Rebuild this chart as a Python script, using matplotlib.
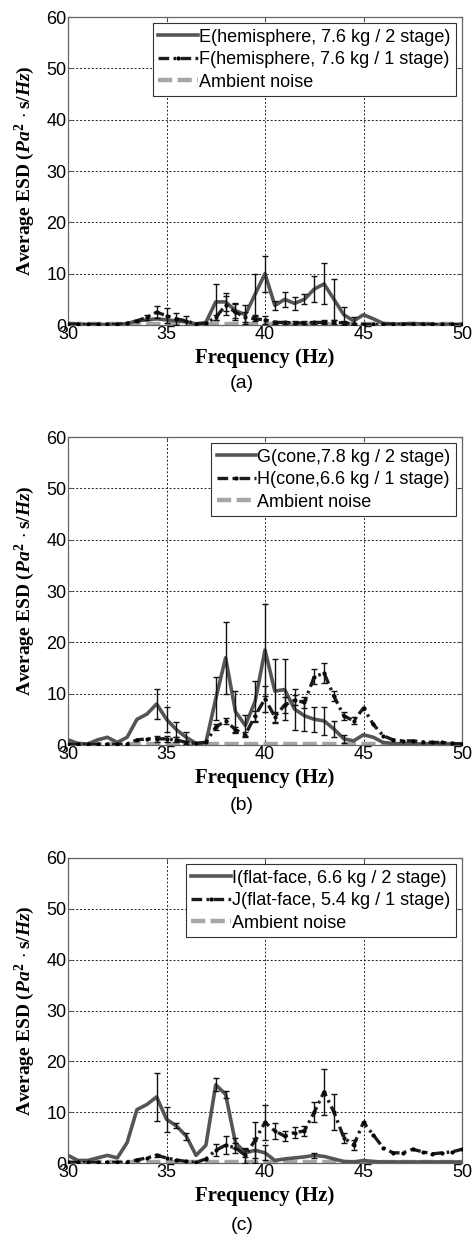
# -*- coding: utf-8 -*-
"""Average ESD vs frequency, three nose shapes (a)(b)(c)"""
import numpy as np, matplotlib
matplotlib.use('Agg')
import matplotlib.pyplot as plt

plt.rcParams['font.family'] = ['Liberation Sans', 'DejaVu Sans']
plt.rcParams['mathtext.fontset'] = 'custom'
plt.rcParams['mathtext.rm'] = 'Liberation Serif:bold'
plt.rcParams['mathtext.it'] = 'Liberation Serif:bold:italic'
plt.rcParams['mathtext.bf'] = 'Liberation Serif:bold'

freq = [30, 30.5, 31, 31.5, 32, 32.5, 33, 33.5, 34, 34.5, 35, 35.5, 36, 36.5, 37, 37.5,
        38, 38.5, 39, 39.5, 40, 40.5, 41, 41.5, 42, 42.5, 43, 43.5, 44, 44.5, 45, 45.5,
        46, 46.5, 47, 47.5, 48, 48.5, 49, 49.5, 50]

# (a) hemisphere
E_val = [0.3, 0.2, 0.1, 0.1, 0.1, 0.1, 0.3, 0.8, 1.0, 1.2, 1.0, 0.8, 0.6, 0.2, 0.5, 4.5,
         4.5, 2.8, 2.0, 6.0, 10.0, 3.8, 5.0, 4.2, 5.0, 7.0, 8.0, 5.0, 2.0, 0.8, 2.0, 1.2,
         0.3, 0.2, 0.2, 0.3, 0.2, 0.1, 0.1, 0.1, 0.1]
E_err = [0, 0, 0, 0, 0, 0, 0, 0, 0, 0, 0, 0, 0, 0, 0, 3.5,
         1.8, 1.5, 1.8, 4.0, 3.5, 0.8, 1.5, 1.3, 1.0, 2.5, 4.0, 4.0, 1.5, 0.8, 0, 0,
         0, 0, 0, 0, 0, 0, 0, 0, 0]
F_val = [0.1, 0.1, 0.1, 0.1, 0.1, 0.1, 0.3, 0.8, 1.5, 2.5, 1.8, 1.2, 0.8, 0.2, 0.3, 1.5,
         3.8, 2.5, 1.5, 1.2, 1.0, 0.5, 0.5, 0.4, 0.4, 0.5, 0.5, 0.5, 0.4, 0.2, 0.1, 0.1,
         0.1, 0.1, 0.1, 0.1, 0.1, 0.1, 0.1, 0.1, 0.1]
F_err = [0, 0, 0, 0, 0, 0, 0, 0, 0.5, 1.2, 1.5, 1.2, 1.0, 0, 0, 0.5,
         1.8, 1.5, 1.0, 0.5, 0.8, 0.3, 0.3, 0.3, 0.3, 0.3, 0.4, 0.4, 0.4, 0.2, 0, 0,
         0, 0, 0, 0, 0, 0, 0, 0, 0]

# (b) cone
G_val = [1.0, 0.3, 0.2, 1.0, 1.5, 0.5, 1.5, 5.0, 6.0, 8.0, 5.0, 3.0, 1.5, 0.3, 0.5, 9.0,
         17.0, 6.5, 3.8, 8.5, 18.5, 10.5, 10.8, 7.0, 5.7, 5.0, 4.7, 3.1, 1.2, 0.8, 2.0, 1.5,
         0.5, 0.3, 0.2, 0.2, 0.2, 0.2, 0.2, 0.2, 0.2]
G_err = [0, 0, 0, 0, 0, 0, 0, 0, 0, 3.0, 2.5, 1.5, 1.0, 0, 0, 4.2,
         7.0, 4.0, 2.0, 4.0, 9.0, 6.3, 6.0, 4.0, 3.0, 2.5, 2.7, 1.5, 0.8, 0, 0, 0,
         0, 0, 0, 0, 0, 0, 0, 0, 0]
H_val = [0.1, 0.1, 0.1, 0.1, 0.1, 0.1, 0.2, 1.0, 1.2, 1.2, 1.2, 1.0, 0.5, 0.3, 0.5, 3.5,
         4.7, 3.0, 2.0, 5.7, 9.0, 5.5, 7.8, 8.7, 8.3, 13.3, 14.0, 9.5, 5.7, 4.7, 7.2, 4.0,
         1.8, 1.0, 0.8, 0.8, 0.6, 0.5, 0.5, 0.3, 0.2]
H_err = [0, 0, 0, 0, 0, 0, 0, 0, 0, 0.6, 0.6, 0.5, 0.3, 0, 0, 0.6,
         0.6, 0.6, 0.5, 1.0, 2.5, 1.0, 1.5, 1.0, 1.0, 1.5, 2.0, 1.0, 0.8, 0.7, 0, 0,
         0, 0, 0, 0, 0, 0, 0, 0, 0]

# (c) flat-face
I_val = [1.5, 0.5, 0.5, 1.0, 1.5, 1.0, 4.0, 10.5, 11.5, 13.0, 8.6, 7.3, 5.3, 1.5, 3.5, 15.4,
         13.5, 4.0, 2.0, 2.5, 2.0, 0.5, 0.8, 1.0, 1.2, 1.5, 1.3, 0.8, 0.3, 0.2, 0.5, 0.3,
         0.2, 0.2, 0.2, 0.2, 0.2, 0.2, 0.2, 0.2, 0.2]
I_err = [0, 0, 0, 0, 0, 0, 0, 0, 0, 4.8, 2.5, 0.5, 0.7, 0, 0, 1.3,
         0.7, 1.0, 0.8, 2.5, 1.5, 0, 0, 0, 0, 0.5, 0, 0, 0, 0, 0, 0,
         0, 0, 0, 0, 0, 0, 0, 0, 0]
J_val = [0.1, 0.1, 0.1, 0.1, 0.1, 0.1, 0.2, 0.6, 1.0, 1.5, 1.0, 0.6, 0.3, 0.1, 0.8, 2.5,
         3.5, 3.0, 1.5, 4.5, 8.0, 6.3, 5.3, 6.0, 6.3, 10.0, 14.0, 10.0, 5.0, 3.5, 8.0, 5.5,
         3.0, 2.0, 2.0, 2.7, 2.2, 1.8, 2.0, 2.2, 2.7]
J_err = [0, 0, 0, 0, 0, 0, 0, 0, 0, 0.3, 0, 0, 0, 0, 0, 1.2,
         1.8, 1.0, 1.5, 3.5, 3.5, 1.5, 1.0, 1.0, 1.0, 2.0, 4.5, 3.5, 1.0, 1.0, 0, 0,
         0, 0, 0, 0, 0, 0, 0, 0, 0]

ambient = [0.2] * len(freq)

panels = [
    ('(a)', E_val, E_err, F_val, F_err,
     'E(hemisphere, 7.6 kg / 2 stage)', 'F(hemisphere, 7.6 kg / 1 stage)'),
    ('(b)', G_val, G_err, H_val, H_err,
     'G(cone,7.8 kg / 2 stage)', 'H(cone,6.6 kg / 1 stage)'),
    ('(c)', I_val, I_err, J_val, J_err,
     'I(flat-face, 6.6 kg / 2 stage)', 'J(flat-face, 5.4 kg / 1 stage)'),
]

W, H = 472, 1245
fig = plt.figure(figsize=(W / 100, H / 100), dpi=100)
# axes boxes in pixels: (top, bottom)
boxes = [(17, 325), (437, 745), (858, 1163)]
caps_y = [384, 805, 1225]
x0, x1 = 68, 462

for (tag, v1, e1, v2, e2, lab1, lab2), (top, bot), cy in zip(panels, boxes, caps_y):
    ax = fig.add_axes([x0 / W, 1 - bot / H, (x1 - x0) / W, (bot - top) / H])
    l1, = ax.plot(freq, v1, '-', color='#555555', lw=2.6, label=lab1, zorder=3)
    l2, = ax.plot(freq, v2, color='#1c1c1c', lw=2.4, dashes=(3.2, 1.3, 0.8, 1.3),
                  marker='.', ms=4, mfc='k', mec='k', label=lab2, zorder=4)
    l3, = ax.plot(freq, ambient, color='#a6a6a6', lw=3.2, dashes=(3.2, 1.2),
                  label='Ambient noise', zorder=2)
    fa = np.array(freq)
    for v, e in ((v1, e1), (v2, e2)):
        m = np.array(e) > 0
        ax.errorbar(fa[m], np.array(v)[m], yerr=np.array(e)[m], fmt='none',
                    ecolor='#111111', elinewidth=1.0, capsize=2.2, capthick=1.0, zorder=5)
    ax.set_xlim(30, 50)
    ax.set_ylim(0, 60)
    ax.set_xticks([30, 35, 40, 45, 50])
    ax.set_yticks([0, 10, 20, 30, 40, 50, 60])
    ax.grid(True, color='#222222', linestyle=(0, (2, 2)), linewidth=0.7)
    ax.tick_params(direction='in', length=3, labelsize=13, top=True, right=True,
                   color='#555555', pad=1)
    for s in ax.spines.values():
        s.set_color('#666666')
        s.set_linewidth(0.9)
    ax.set_xlabel('Frequency (Hz)', family='Liberation Serif', fontweight='bold',
                  fontsize=15, labelpad=3)
    ax.set_ylabel(r'Average ESD ($Pa^2\,\cdot$s$/Hz$)', family='Liberation Serif',
                  fontweight='bold', fontsize=14, labelpad=7)
    leg = ax.legend(handles=[l1, l2, l3], loc='upper right', fontsize=13,
                    handlelength=2.2, handletextpad=0.05, borderpad=0.3,
                    labelspacing=0.3, borderaxespad=0.35, fancybox=False,
                    framealpha=1, edgecolor='#333333')
    leg.get_frame().set_linewidth(0.8)
    fig.text(242 / W, 1 - cy / H, tag, ha='center', va='center', fontsize=14)

plt.savefig('out.png', dpi=100)
plt.close()
